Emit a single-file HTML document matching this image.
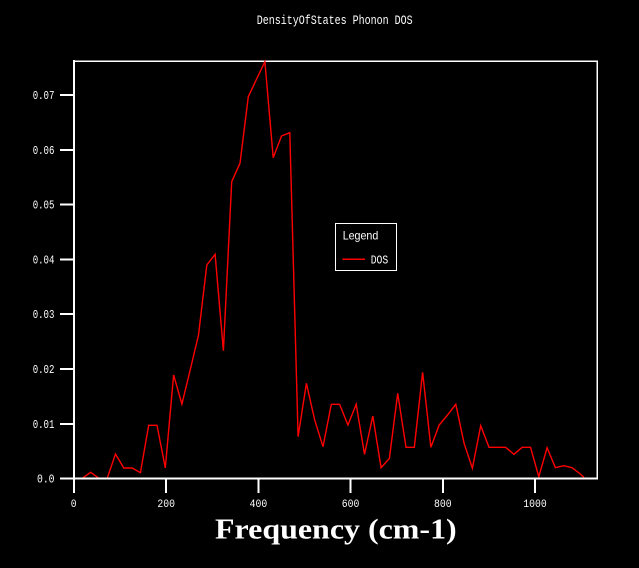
<!DOCTYPE html>
<html>
<head>
<meta charset="utf-8">
<style>
  html, body { margin: 0; padding: 0; background: #000; }
  body { width: 639px; height: 568px; overflow: hidden; }
  svg { display: block; }
  text { fill: #fff; }
</style>
</head>
<body>
<svg width="639" height="568" viewBox="0 0 639 568" xmlns="http://www.w3.org/2000/svg">
  <rect x="0" y="0" width="639" height="568" fill="#000"/>

  <!-- Title -->
  <text x="256.7" y="24" font-family="Liberation Mono, monospace" font-size="13" textLength="156" lengthAdjust="spacingAndGlyphs">DensityOfStates Phonon DOS</text>

  <!-- Top and right frame -->
  <g stroke="#fff" shape-rendering="crispEdges" fill="none">
    <line x1="74" y1="61.3" x2="598" y2="61.3" stroke-width="1.3"/>
    <line x1="597.3" y1="61" x2="597.3" y2="479" stroke-width="1.3"/>
  </g>

  <!-- Data -->
  <polyline fill="none" stroke="#ff0000" stroke-width="1.4" stroke-linejoin="miter"
    points="74,478.3 82.3,478.3 90.6,472.3 98.9,478.3 107.2,478.3 115.5,454 123.8,468 132.1,468 140.4,472.7 148.7,425.3 157,425.3 165.3,468 173.6,375 181.9,404 190.2,370 198.5,335 206.8,265 215.1,254.3 223.4,350.7 231.7,181.7 240,163.3 248.3,96.7 256.6,79 264.9,61.7 273.2,157.7 281.5,136 289.8,132.7 298.1,436.7 306.4,383.3 314.7,420 323,446.7 331.3,404.3 339.6,404.3 347.9,425 356.2,404.3 364.5,454.3 372.8,416 381.1,467.7 389.4,458.3 397.7,393.3 406,447.3 414.3,447.3 422.6,372.3 430.9,447.3 439.2,425 447.5,415 455.8,404.3 464.1,443.3 472.4,468.3 480.7,425.7 489,447.3 497.3,447.3 505.6,447.3 513.9,454.3 522.2,447.3 530.5,447.3 538.8,476.7 547.1,447.7 555.4,467.7 563.7,465.7 572,467.7 580.3,474 584,477.5"/>

  <!-- Left and bottom axes, ticks -->
  <g stroke="#fff" stroke-width="2" shape-rendering="crispEdges" fill="none">
    <line x1="74" y1="60" x2="74" y2="480"/>
    <line x1="73" y1="478.7" x2="598" y2="478.7"/>
    <!-- y ticks -->
    <line x1="60" y1="478.6" x2="74" y2="478.6"/>
    <line x1="60" y1="423.8" x2="74" y2="423.8"/>
    <line x1="60" y1="369" x2="74" y2="369"/>
    <line x1="60" y1="314.2" x2="74" y2="314.2"/>
    <line x1="60" y1="259.4" x2="74" y2="259.4"/>
    <line x1="60" y1="204.6" x2="74" y2="204.6"/>
    <line x1="60" y1="149.8" x2="74" y2="149.8"/>
    <line x1="60" y1="95" x2="74" y2="95"/>
    <!-- x ticks -->
    <line x1="74" y1="478" x2="74" y2="493"/>
    <line x1="166.2" y1="478" x2="166.2" y2="493"/>
    <line x1="258.4" y1="478" x2="258.4" y2="493"/>
    <line x1="350.6" y1="478" x2="350.6" y2="493"/>
    <line x1="442.8" y1="478" x2="442.8" y2="493"/>
    <line x1="535" y1="478" x2="535" y2="493"/>
  </g>

  <!-- y tick labels -->
  <g font-family="Liberation Mono, monospace" font-size="12">
    <text x="37" y="482.6" textLength="17.5" lengthAdjust="spacingAndGlyphs">0.0</text>
    <text x="32.7" y="427.8" textLength="21.7" lengthAdjust="spacingAndGlyphs">0.01</text>
    <text x="32.7" y="373" textLength="21.7" lengthAdjust="spacingAndGlyphs">0.02</text>
    <text x="32.7" y="318.2" textLength="21.7" lengthAdjust="spacingAndGlyphs">0.03</text>
    <text x="32.7" y="263.4" textLength="21.7" lengthAdjust="spacingAndGlyphs">0.04</text>
    <text x="32.7" y="208.6" textLength="21.7" lengthAdjust="spacingAndGlyphs">0.05</text>
    <text x="32.7" y="153.8" textLength="21.7" lengthAdjust="spacingAndGlyphs">0.06</text>
    <text x="32.7" y="99" textLength="21.7" lengthAdjust="spacingAndGlyphs">0.07</text>
  </g>

  <!-- x tick labels -->
  <g font-family="Liberation Mono, monospace" font-size="11">
    <text x="70.8" y="507" textLength="5.8" lengthAdjust="spacingAndGlyphs">0</text>
    <text x="157.4" y="507" textLength="17.6" lengthAdjust="spacingAndGlyphs">200</text>
    <text x="249.6" y="507" textLength="17.6" lengthAdjust="spacingAndGlyphs">400</text>
    <text x="341.8" y="507" textLength="17.6" lengthAdjust="spacingAndGlyphs">600</text>
    <text x="434" y="507" textLength="17.6" lengthAdjust="spacingAndGlyphs">800</text>
    <text x="523.3" y="507" textLength="23.4" lengthAdjust="spacingAndGlyphs">1000</text>
  </g>

  <!-- x axis title -->
  <text x="215" y="538.3" font-family="Liberation Serif, serif" font-weight="bold" font-size="28" textLength="241.7" lengthAdjust="spacingAndGlyphs">Frequency (cm-1)</text>

  <!-- Legend -->
  <rect x="335.5" y="223.5" width="61" height="47" fill="#000" stroke="#fff" stroke-width="1.3" shape-rendering="crispEdges"/>
  <text x="342.7" y="239.7" font-family="Liberation Sans, sans-serif" font-size="12" textLength="35.6" lengthAdjust="spacingAndGlyphs">Legend</text>
  <line x1="342.7" y1="259.3" x2="365" y2="259.3" stroke="#ff0000" stroke-width="1.2" shape-rendering="crispEdges"/>
  <text x="370.7" y="263.7" font-family="Liberation Mono, monospace" font-size="12" textLength="17.6" lengthAdjust="spacingAndGlyphs">DOS</text>
</svg>
</body>
</html>
